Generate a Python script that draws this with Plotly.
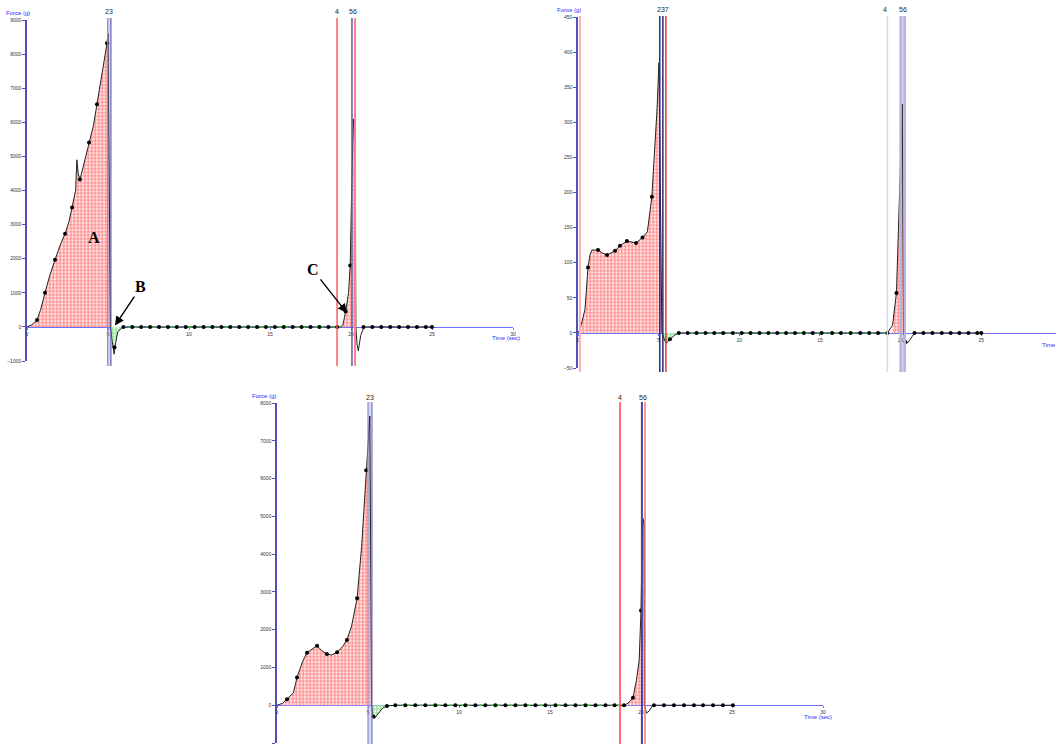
import plotly.graph_objects as go

W, H = 1056, 744
def px(x): return x / W
def py(y): return 1 - y / H

# ---------------- Panel 1 (top-left) ----------------
p1_t = [0, 0.3, 0.62, 0.85, 1.11, 1.4, 1.73, 2.05, 2.35, 2.6, 2.78, 3.0, 3.08, 3.16, 3.27, 3.55, 3.83, 4.1, 4.32, 4.6, 4.94, 5.0,
        5.15, 5.25, 5.38, 5.48, 5.6, 5.9, 19.35, 19.5, 19.67, 19.85, 19.95, 20.02, 20.08, 20.14, 20.2, 20.27,
        20.3, 20.37, 20.45, 20.6, 20.8, 25.0]
p1_f = [0, 60, 205, 520, 1000, 1500, 1970, 2400, 2735, 3100, 3500, 4000, 4900, 4500, 4320, 4850, 5410, 5900, 6530, 7300, 8320, 8600,
        0, -400, -800, -450, -150, 0, 0, 60, 450, 1000, 1800, 3500, 5000, 6100, 5800, 4500,
        0, -500, -700, -250, 0, 0]
p1_dot_t = [0.62, 1.11, 1.73, 2.35, 2.78, 3.27, 3.83, 4.32, 4.94, 5.4,
            5.95, 6.5, 7.05, 7.6, 8.15, 8.7, 9.25, 9.8, 10.35, 10.9, 11.45, 12.0, 12.55, 13.1, 13.65, 14.2, 14.75, 15.3, 15.85,
            16.4, 16.95, 17.5, 18.05, 18.6, 19.15, 19.67, 19.95,
            20.77, 21.32, 21.87, 22.42, 22.97, 23.52, 24.07, 24.62, 25.0]
p1_dot_f = [205, 1000, 1970, 2735, 3500, 4320, 5410, 6530, 8320, -600,
            0, 0, 0, 0, 0, 0, 0, 0, 0, 0, 0, 0, 0, 0, 0, 0, 0, 0, 0,
            0, 0, 0, 0, 0, 0, 450, 1800,
            0, 0, 0, 0, 0, 0, 0, 0, 0]
p1_main_fill = (0, 5.15)
p1_neg_fill = (5.15, 5.9)
p1_peak2_fill = (19.35, 20.3)
p1_green_flat = (5.9, 19.35)
p1_event_t = [4.98, 5.18, 19.14, 20.06, 20.25]
p1_labels = ["23", "4", "56"]
p1_label_t = [5.08, 19.14, 20.15]
p1_yticks = [-1000, 0, 1000, 2000, 3000, 4000, 5000, 6000, 7000, 8000, 9000]

# ---------------- Panel 2 (top-right) ----------------
p2_t = [0, 0.12, 0.2, 0.43, 0.62, 0.75, 0.87, 1.24, 1.5, 1.8, 2.3, 2.6, 3.03, 3.3, 3.6, 4.0, 4.3, 4.58, 4.76, 4.9, 5.02,
        5.2, 5.45, 5.7, 6.0, 6.25, 19.18, 19.5, 19.74, 19.86, 20.0, 20.1, 20.18, 20.3, 20.45, 20.86, 25.0]
p2_f = [0, 5, 12, 33, 93, 112, 118, 118, 114, 111, 117, 124, 131, 130, 128, 136, 144, 194, 261, 319, 385,
        0, -15, -9, -3, 0, 0, 11, 57, 144, 261, 326, 0, -13, -14, 0, 0]
p2_dot_t = [0.62, 1.24, 1.8, 2.3, 2.6, 3.03, 3.6, 4.0, 4.58, 5.7,
            6.25, 6.8, 7.35, 7.9, 8.45, 9.0, 9.6, 10.15, 10.7, 11.25, 11.8, 12.35, 12.9, 13.45, 14.0, 14.55, 15.1, 15.75,
            16.3, 16.9, 17.5, 18.05, 18.6, 19.18, 19.74, 20.3, 20.86,
            21.41, 21.97, 22.55, 23.1, 23.64, 24.2, 24.75, 25.0]
p2_dot_f = [93, 118, 111, 117, 124, 131, 128, 136, 194, -9,
            0, 0, 0, 0, 0, 0, 0, 0, 0, 0, 0, 0, 0, 0, 0, 0, 0, 0,
            0, 0, 0, 0, 0, 0, 57, -13, 0,
            0, 0, 0, 0, 0, 0, 0, 0]
p2_main_fill = (0.12, 5.2)
p2_neg_fill = (5.2, 6.25)
p2_peak2_fill = (19.5, 20.18)
p2_green_flat = (6.25, 19.18)
p2_event_t = [0.12, 5.07, 5.26, 5.45, 19.18, 20.0, 20.25]
p2_labels = ["237", "4", "56"]
p2_label_t = [5.26, 19.05, 20.12]
p2_yticks = [-50, 0, 50, 100, 150, 200, 250, 300, 350, 400, 450]

# ---------------- Panel 3 (bottom) ----------------
p3_t = [0, 0.3, 0.55, 0.9, 1.1, 1.4, 1.65, 1.9, 2.2, 2.45, 2.74, 3.0, 3.3, 3.6, 3.84, 4.1, 4.4, 4.65, 4.9, 5.1,
        5.2, 5.27, 5.35, 5.6, 5.8, 6.04, 6.5, 19.1, 19.35, 19.56, 19.75, 19.9, 20.0, 20.05, 20.1, 20.17,
        20.2, 20.3, 20.45, 20.65, 25.05]
p3_f = [0, 50, 160, 330, 735, 1150, 1390, 1480, 1575, 1450, 1354, 1330, 1400, 1550, 1725, 2100, 2830, 4200, 6220, 7650,
        0, -310, -350, -200, -80, -20, 0, 0, 80, 200, 660, 1200, 2510, 4000, 4950, 4800,
        0, -210, -150, 0, 0]
p3_dot_t = [0.55, 1.1, 1.65, 2.2, 2.74, 3.3, 3.84, 4.4, 4.9, 5.3, 6.04,
            6.5, 7.05, 7.6, 8.15, 8.7, 9.25, 9.8, 10.35, 10.9, 11.45, 12.0, 12.55, 13.1, 13.65, 14.2, 14.75, 15.3, 15.85,
            16.4, 16.95, 17.5, 18.05, 18.55, 19.07, 19.56, 20.0,
            20.71, 21.26, 21.81, 22.36, 22.91, 23.41, 23.96, 24.5, 25.05]
p3_dot_f = [160, 735, 1390, 1575, 1354, 1400, 1725, 2830, 6220, -300, -20,
            0, 0, 0, 0, 0, 0, 0, 0, 0, 0, 0, 0, 0, 0, 0, 0, 0, 0,
            0, 0, 0, 0, 0, 0, 200, 2510,
            0, 0, 0, 0, 0, 0, 0, 0, 0]
p3_main_fill = (0, 5.2)
p3_neg_fill = (5.2, 6.5)
p3_peak2_fill = (19.1, 20.2)
p3_green_flat = (6.5, 19.1)
p3_event_t = [5.0, 5.22, 18.85, 20.05, 20.22]
p3_labels = ["23", "4", "56"]
p3_label_t = [5.11, 18.85, 20.13]
p3_yticks = [-1000, 0, 1000, 2000, 3000, 4000, 5000, 6000, 7000, 8000]

x_ticks = [0, 5, 10, 15, 20, 25, 30]

panels = [
    dict(t=p1_t, f=p1_f, dt=p1_dot_t, df=p1_dot_f, main=p1_main_fill, neg=p1_neg_fill, pk=p1_peak2_fill,
         flat=p1_green_flat, ev=p1_event_t, lab=p1_labels, labt=p1_label_t, yt=p1_yticks,
         x0=27, x1=513, xr=[0, 30], ytop=20, ybot=361, yr=[-1000, 9000], yzero=327,
         ev_colors=["#8a8ad0", "#6a6ab8", "#ff5a5a", "#5a5ab0", "#ff8080"], ev_w=[1.2, 1.2, 1.5, 1.5, 2],
         band=(4.98, 5.2), lab_y=12, force=(18, 13), time=(506, 338), line_top=18, line_bot=366),
    dict(t=p2_t, f=p2_f, dt=p2_dot_t, df=p2_dot_f, main=p2_main_fill, neg=p2_neg_fill, pk=p2_peak2_fill,
         flat=p2_green_flat, ev=p2_event_t, lab=p2_labels, labt=p2_label_t, yt=p2_yticks,
         x0=578, x1=1056, xr=[0, 29.63], ytop=17, ybot=368, yr=[-50, 450], yzero=333,
         ev_colors=["#ffb0b0", "#2a2a8a", "#2a2a70", "#e03a3a", "#d8d8ec", "#b4b4dc", "#b4b4dc"],
         ev_w=[2, 1.5, 1.5, 1.5, 1.5, 2.5, 2.5],
         band=(19.98, 20.27), lab_y=10, force=(569, 10), time=(1040, 345), line_top=16, line_bot=372),
    dict(t=p3_t, f=p3_f, dt=p3_dot_t, df=p3_dot_f, main=p3_main_fill, neg=p3_neg_fill, pk=p3_peak2_fill,
         flat=p3_green_flat, ev=p3_event_t, lab=p3_labels, labt=p3_label_t, yt=p3_yticks,
         x0=277, x1=823, xr=[0, 30], ytop=403, ybot=743, yr=[-1000, 8000], yzero=705,
         ev_colors=["#8a8ad0", "#7a7ac4", "#ff4040", "#4040b0", "#ff7070"], ev_w=[1.2, 1.2, 1.5, 2, 1.5],
         band=(5.0, 5.22), lab_y=397, force=(264, 396), time=(818, 717), line_top=402, line_bot=744),
]

def seg(t, f, a, b):
    xs, ys = [], []
    for ti, fi in zip(t, f):
        if a <= ti <= b:
            xs.append(ti); ys.append(fi)
    return xs, ys

fig = go.Figure()
shapes, annotations = [], []
layout = dict(width=W, height=H, margin=dict(l=0, r=0, t=0, b=0, pad=0, autoexpand=False), paper_bgcolor="white",
              plot_bgcolor="rgba(0,0,0,0)", showlegend=False)

for i, p in enumerate(panels):
    n = "" if i == 0 else str(i + 1)
    xa, ya = "x" + n, "y" + n
    for (a, b) in [p["main"], p["pk"]]:
        xs, ys = seg(p["t"], p["f"], a, b)
        fig.add_trace(go.Scatter(x=xs, y=ys, xaxis=xa, yaxis=ya, mode="lines", line=dict(width=0),
                                 fill="tozeroy", fillcolor="#ffe4e4",
                                 fillpattern=dict(shape="+", fgcolor="#ff1a1a", bgcolor="#ffe8e8", size=3.5, solidity=0.5),
                                 hoverinfo="skip"))
    xs, ys = seg(p["t"], p["f"], *p["neg"])
    fig.add_trace(go.Scatter(x=xs, y=ys, xaxis=xa, yaxis=ya, mode="lines", line=dict(width=0),
                             fill="tozeroy", fillcolor="#e8ffe8",
                             fillpattern=dict(shape="+", fgcolor="#22bb22", bgcolor="#e8ffe8", size=3.5, solidity=0.5),
                             hoverinfo="skip"))
    fig.add_trace(go.Scatter(x=p["t"], y=p["f"], xaxis=xa, yaxis=ya, mode="lines",
                             line=dict(color="#222222", width=1)))
    fig.add_trace(go.Scatter(x=list(p["flat"]), y=[0, 0], xaxis=xa, yaxis=ya, mode="lines",
                             line=dict(color="#33cc33", width=1.5, dash="dot")))
    fig.add_trace(go.Scatter(x=p["dt"], y=p["df"], xaxis=xa, yaxis=ya, mode="markers",
                             marker=dict(color="black", size=4)))

    layout["xaxis" + n] = dict(domain=[px(p["x0"]), px(p["x1"])], range=p["xr"], anchor="free",
                               position=py(p["yzero"]), showline=True, linecolor="#6e6eff", linewidth=1,
                               ticks="outside", ticklen=2, tickcolor="#6e6eff", tickvals=x_ticks,
                               tickfont=dict(size=5, color="#333", family="Liberation Sans"),
                               showgrid=False, zeroline=False, fixedrange=True, automargin=False,
                               layer="below traces")
    layout["yaxis" + n] = dict(domain=[py(p["ybot"]), py(p["ytop"])], range=p["yr"], anchor=xa,
                               showline=True, linecolor="#5050b8", linewidth=1.5, ticks="outside", ticklen=3,
                               tickcolor="#5050b8", tickvals=p["yt"],
                               tickfont=dict(size=5, color="#333", family="Liberation Sans"),
                               showgrid=False, zeroline=False, fixedrange=True, automargin=False,
                               layer="below traces")

    shapes.append(dict(type="rect", xref=xa, yref="paper", x0=p["band"][0], x1=p["band"][1],
                       y0=py(p["line_bot"]), y1=py(p["line_top"]), fillcolor="#d6d6f0", line=dict(width=0),
                       layer="below"))
    for t, c, w in zip(p["ev"], p["ev_colors"], p["ev_w"]):
        shapes.append(dict(type="line", xref=xa, yref="paper", x0=t, x1=t, y0=py(p["line_bot"]),
                           y1=py(p["line_top"]), line=dict(color=c, width=w), layer="above"))
    for txt, t in zip(p["lab"], p["labt"]):
        annotations.append(dict(text=txt, xref=xa, yref="paper", x=t, y=py(p["lab_y"]), showarrow=False,
                                font=dict(size=7, color="#222", family="Liberation Sans"), xanchor="center",
                                yanchor="middle"))
    annotations.append(dict(text="Force (g)", xref="paper", yref="paper", x=px(p["force"][0]), y=py(p["force"][1]),
                            showarrow=False, font=dict(size=6, color="#2828ff", family="Liberation Sans"),
                            xanchor="center", yanchor="middle"))
    annotations.append(dict(text="Time (sec)", xref="paper", yref="paper", x=px(p["time"][0]), y=py(p["time"][1]),
                            showarrow=False, font=dict(size=6, color="#2828ff", family="Liberation Sans"),
                            xanchor="center" if i != 1 else "left", yanchor="middle"))

serif = dict(family="Liberation Serif", size=16, color="black")
annotations.append(dict(text="<b>A</b>", xref="paper", yref="paper", x=px(86), y=py(227), showarrow=False, font=serif))
annotations.append(dict(text="<b>B</b>", xref="x", yref="y", x=5.43, y=40, ax=26, ay=-39, axref="pixel", ayref="pixel",
                        showarrow=True, arrowhead=2, arrowsize=1.3, arrowwidth=1.4, arrowcolor="black", font=serif))
annotations.append(dict(text="<b>C</b>", xref="x", yref="y", x=19.75, y=410, ax=-34, ay=-43, axref="pixel", ayref="pixel",
                        showarrow=True, arrowhead=2, arrowsize=1.3, arrowwidth=1.4, arrowcolor="black", font=serif))

layout["shapes"] = shapes
layout["annotations"] = annotations
fig.update_layout(**layout)
fig.write_html("out.html", config={"displayModeBar": False},
               post_script="document.body.style.margin='0px';document.body.style.overflow='hidden';")
